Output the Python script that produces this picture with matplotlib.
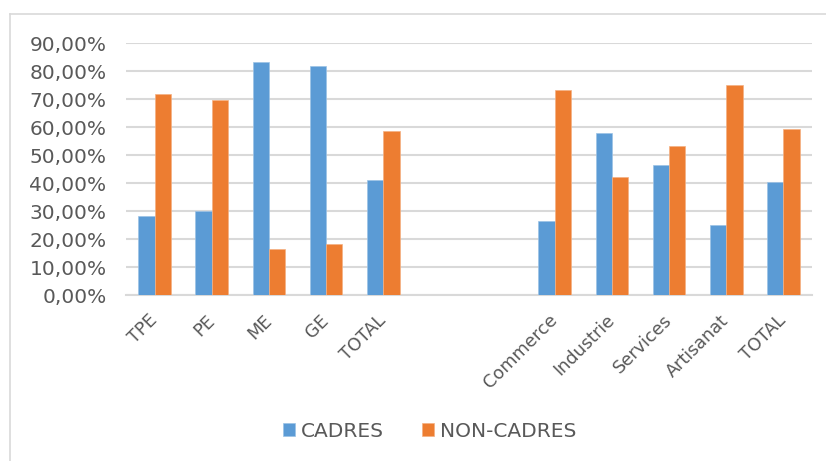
import numpy as np
import matplotlib.pyplot as plt
from matplotlib.lines import Line2D

# Part des cadres / non-cadres par taille d'entreprise puis par secteur
categories = ["TPE", "PE", "ME", "GE", "TOTAL", "", "",
              "Commerce", "Industrie", "Services", "Artisanat", "TOTAL"]
cadres = [0.282, 0.302, 0.833, 0.818, 0.412, np.nan, np.nan,
          0.267, 0.579, 0.467, 0.250, 0.406]
non_cadres = [0.718, 0.698, 0.167, 0.182, 0.588, np.nan, np.nan,
              0.733, 0.421, 0.533, 0.750, 0.594]

bleu = "#5b9bd5"
orange = "#ed7d31"
gris_texte = "#595959"
gris_ligne = "#d9d9d9"

plt.rcParams["font.family"] = ["DejaVu Sans"]

fig = plt.figure(figsize=(8.26, 4.61), dpi=100)
ax = fig.add_axes([0.1525, 0.3594, 0.8305, 0.5466])

x = np.arange(len(categories))
w = 0.285
ax.bar(x - w / 2, cadres, w, color=bleu, edgecolor="#9cc3e6", linewidth=0.5,
       label="CADRES", zorder=3)
ax.bar(x + w / 2, non_cadres, w, color=orange, edgecolor="#f4b183", linewidth=0.5,
       label="NON-CADRES", zorder=3)

ax.set_xlim(-0.5, len(categories) - 0.5)
ax.set_ylim(0, 0.9)
ax.set_yticks(np.arange(0, 0.91, 0.1))
ax.set_yticklabels([f"{v:.2f}%".replace(".", ",") for v in np.arange(0, 91, 10)],
                   fontsize=14.5, color=gris_texte)
ax.set_xticks(x)
ax.set_xticklabels(categories, rotation=45, ha="right", va="center",
                   rotation_mode="anchor", fontsize=12.7, color=gris_texte)
ax.tick_params(axis="both", length=0)
ax.tick_params(axis="y", pad=14)
ax.tick_params(axis="x", pad=16)

ax.grid(axis="y", color=gris_ligne, linewidth=1.5, zorder=0)
for side in ["top", "right", "left"]:
    ax.spines[side].set_visible(False)
ax.spines["bottom"].set_color(gris_ligne)
ax.spines["bottom"].set_linewidth(1.5)

# cadre du graphique (haut et gauche)
fig.add_artist(Line2D([10 / 826, 1], [1 - 14 / 461] * 2, color=gris_ligne, lw=1.2))
fig.add_artist(Line2D([10 / 826] * 2, [0, 1 - 14 / 461], color=gris_ligne, lw=1.2))

fig.legend(loc="center", bbox_to_anchor=(0.52, 1 - 431 / 461), ncol=2, frameon=False,
           fontsize=14.5, labelcolor=gris_texte, handlelength=0.6, handleheight=0.6,
           handletextpad=0.3, columnspacing=1.9)

fig.savefig("out.png", dpi=100)
